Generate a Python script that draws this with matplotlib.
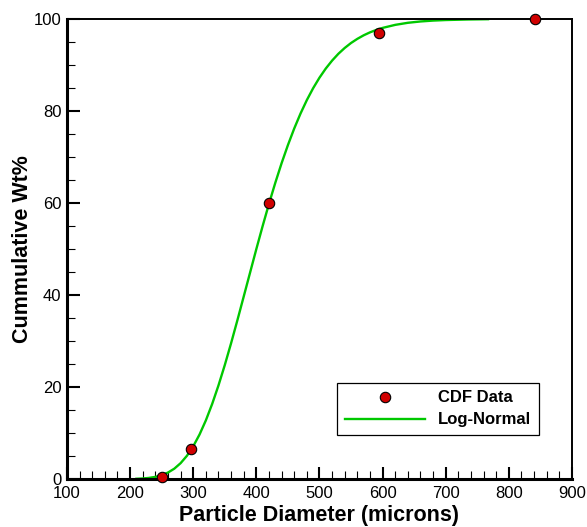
import matplotlib
matplotlib.use("Agg")
import matplotlib.pyplot as plt
from matplotlib.ticker import MultipleLocator

plt.rcParams['font.family'] = ['Liberation Sans', 'DejaVu Sans']

# measured CDF points (sieve sizes)
diam = [250, 297, 420, 595, 841]
cum_wt = [0.5, 6.5, 60, 97, 100]

# log-normal curve
fit_x = [210, 220, 230, 240, 250, 260, 270, 280, 290, 300, 310, 320, 330,
         340, 350, 360, 370, 380, 390, 400, 410, 420, 430, 440, 450, 460,
         470, 480, 490, 500, 510, 520, 530, 540, 550, 560, 570, 580, 590,
         600, 620, 640, 660, 680, 700, 735, 767]
fit_y = [0.05, 0.11, 0.24, 0.46, 0.82, 1.40, 2.24, 3.44, 5.04, 7.11, 9.67,
         12.74, 16.31, 20.34, 24.77, 29.53, 34.53, 39.68, 44.84, 50.0, 55.01,
         59.83, 64.39, 68.66, 72.59, 76.20, 79.46, 82.38, 84.97, 87.25,
         89.24, 90.96, 92.45, 93.71, 94.79, 95.69, 96.46, 97.10, 97.63,
         98.07, 98.73, 99.18, 99.47, 99.66, 99.78, 99.90, 99.96]

fig = plt.figure(figsize=(5.87, 5.27), dpi=100)
ax = fig.add_axes([0.1141, 0.0911, 0.8603, 0.8728])

ax.plot(diam, cum_wt, 'o', color='#d00000', markeredgecolor='black',
        markeredgewidth=0.8, markersize=7.5, label='CDF Data', clip_on=False,
        zorder=3)
ax.plot(fit_x, fit_y, '-', color='#00c800', linewidth=1.7, label='Log-Normal',
        solid_joinstyle='round', zorder=2)

ax.set_xlim(100, 900)
ax.set_ylim(0, 100)
ax.xaxis.set_major_locator(MultipleLocator(100))
ax.xaxis.set_minor_locator(MultipleLocator(20))
ax.yaxis.set_major_locator(MultipleLocator(20))
ax.yaxis.set_minor_locator(MultipleLocator(5))

ax.tick_params(which='both', direction='in', top=False, right=False,
               labelsize=12)
ax.tick_params(which='major', length=9, width=1.5)
ax.tick_params(axis='y', which='major', pad=4)
ax.tick_params(axis='x', which='major', pad=5)
ax.tick_params(which='minor', length=5.5, width=0.8)

for side in ['left', 'bottom']:
    ax.spines[side].set_linewidth(2.2)
for side in ['top', 'right']:
    ax.spines[side].set_linewidth(1.4)

ax.set_xlabel('Particle Diameter (microns)', fontsize=15.5, fontweight='bold',
              labelpad=3)
ax.set_ylabel('Cummulative Wt%', fontsize=15.5, fontweight='bold', labelpad=0.5)

leg = ax.legend(loc='lower left', bbox_to_anchor=(0.535, 0.0957),
                borderaxespad=0, fancybox=False, edgecolor='black',
                framealpha=1, handlelength=4.8, handletextpad=0.8,
                labelspacing=0.42, borderpad=0.45,
                prop={'size': 12, 'weight': 'bold'})
leg.get_frame().set_linewidth(0.9)

fig.savefig('out.png', dpi=100)
